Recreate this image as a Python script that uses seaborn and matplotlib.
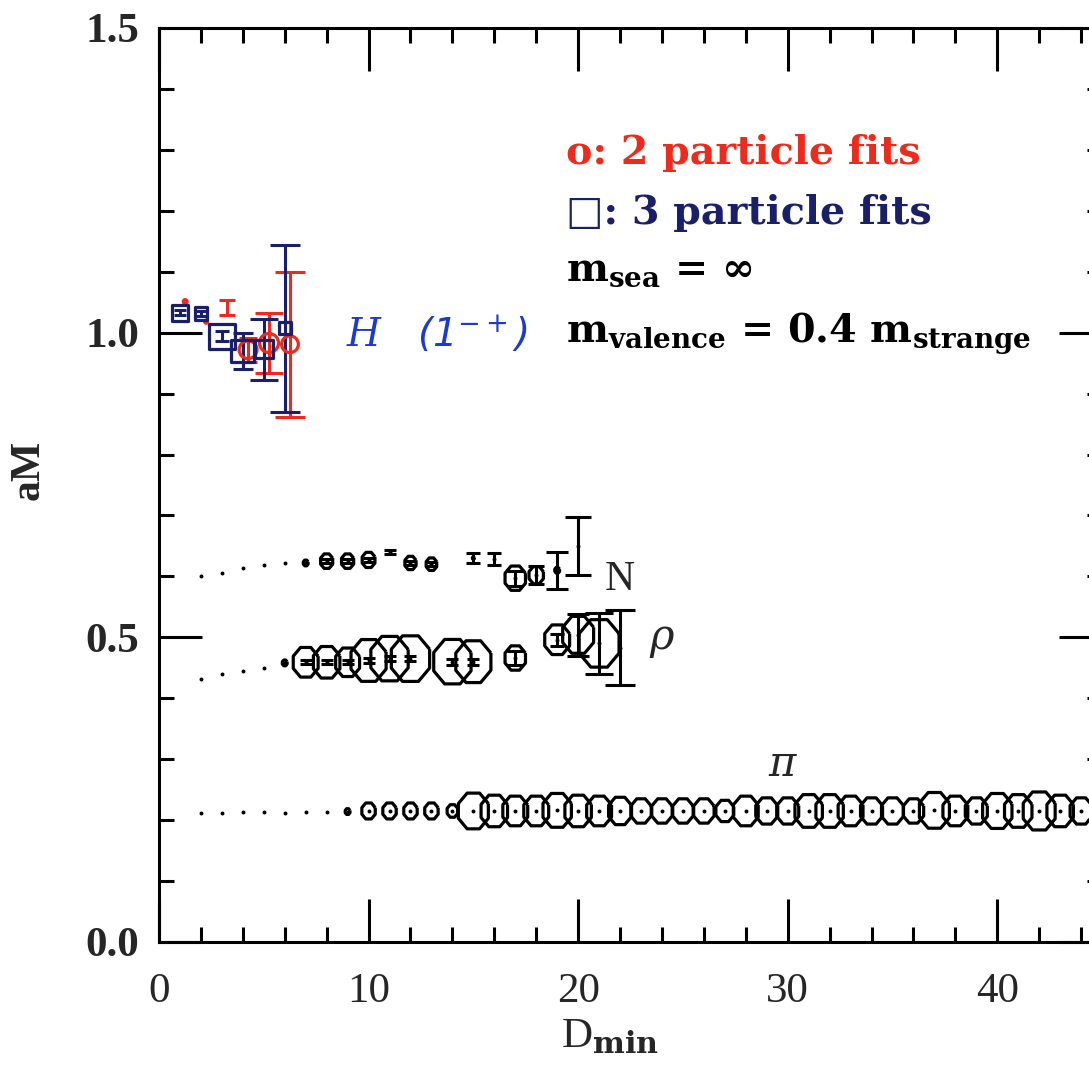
import matplotlib
matplotlib.use("Agg")

import numpy as np
import pandas as pd
import matplotlib.pyplot as plt
import seaborn as sns

# ---------------- data ----------------
# pion
pi_d = [2, 3, 4, 5, 6, 7, 8, 9, 10, 11, 12, 13, 14, 15, 16, 17, 18, 19, 20, 21,
        22, 23, 24, 25, 26, 27, 28, 29, 30, 31, 32, 33, 34, 35, 36, 37, 38, 39, 40,
        41, 42, 43, 44]
pi_am = [0.212, 0.212, 0.213, 0.213, 0.212, 0.213, 0.213, 0.214, 0.215, 0.215,
         0.215, 0.215, 0.215, 0.215, 0.215, 0.215, 0.215, 0.216, 0.215, 0.215,
         0.215, 0.215, 0.215, 0.215, 0.215, 0.215, 0.215, 0.215, 0.215, 0.215,
         0.215, 0.215, 0.215, 0.215, 0.215, 0.216, 0.215, 0.215, 0.215, 0.215,
         0.215, 0.215, 0.215]
pi_q = [0, 0, 0, 0, 0, 0, 0, 0.15, 0.42, 0.42, 0.42, 0.42, 0.33,
        0.94, 0.83, 0.78, 0.78, 0.89, 0.83, 0.78, 0.72, 0.64, 0.64,
        0.64, 0.64, 0.56, 0.78, 0.69, 0.69, 0.86, 0.86, 0.78, 0.69,
        0.69, 0.64, 0.94, 0.78, 0.69, 0.92, 0.86, 1.0, 0.83, 0.69]

# rho
rho_d = [2, 3, 4, 5, 6, 7, 8, 9, 10, 11, 12, 14, 15, 17, 19, 20, 21, 22]
rho_am = [0.431, 0.440, 0.445, 0.449, 0.458, 0.459, 0.459, 0.459, 0.462, 0.465,
          0.465, 0.460, 0.460, 0.466, 0.496, 0.504, 0.490, 0.483]
rho_err = [0, 0, 0, 0, 0, 0.003, 0.003, 0.003, 0.004, 0.004, 0.004, 0.005, 0.005,
           0.012, 0.010, 0.034, 0.050, 0.062]
rho_q = [0, 0, 0, 0, 0.15, 0.78, 0.83, 0.75, 1.1, 1.17, 1.2, 1.17, 1.1, 0.64,
         0.78, 0.97, 1.25, 0]

# nucleon
N_d = [2, 3, 4, 5, 6, 7, 8, 9, 10, 11, 12, 13, 15, 16, 17, 18, 19, 20]
N_am = [0.600, 0.606, 0.614, 0.619, 0.622, 0.622, 0.625, 0.625, 0.627, 0.640,
        0.622, 0.620, 0.630, 0.628, 0.597, 0.602, 0.610, 0.650]
N_err = [0, 0, 0, 0, 0, 0, 0.003, 0.003, 0.003, 0.004, 0.003, 0.003, 0.008,
         0.010, 0.012, 0.015, 0.030, 0.047]
N_q = [0, 0, 0, 0, 0, 0.15, 0.38, 0.38, 0.40, 0, 0.35, 0.33, 0.06, 0, 0.64,
       0.45, 0.15, 0]

# hybrid 1-+ : 3 particle fits (squares) and 2 particle fits (circles)
h3_d = [1, 2, 3, 4, 5, 6]
h3_am = [1.033, 1.031, 0.994, 0.970, 0.973, 1.007]
h3_err = [0.004, 0.004, 0.008, 0.029, 0.050, 0.137]
h3_q = [0.42, 0.33, 0.67, 0.60, 0.47, 0.31]

h2_d = [1.25, 2.25, 3.25, 4.25, 5.25, 6.25]
h2_am = [1.051, 1.018, 1.041, 0.972, 0.983, 0.981]
h2_err = [0, 0, 0.012, 0.020, 0.049, 0.119]
h2_q = [0.10, 0.08, 0, 0.47, 0.50, 0.44]

RED = "#ee2a1c"
NAVY = "#1a1f6b"
PEN = "#1a3ad0"
SMAX = 748  # marker area (pt^2) for q = 1
LW = 2.3

sns.set_style("ticks")
plt.rcParams["font.family"] = ["Liberation Serif", "DejaVu Serif"]
plt.rcParams["mathtext.fontset"] = "custom"
plt.rcParams["mathtext.rm"] = "DejaVu Serif"
plt.rcParams["mathtext.bf"] = "DejaVu Serif:bold"
plt.rcParams["mathtext.it"] = "DejaVu Serif:italic"

fig = plt.figure(figsize=(10.89, 10.72), dpi=100)
ax = fig.add_axes([0.146, 0.1213, 0.866, 0.8526])

# elongated octagon used by the original plotting program
ang = np.deg2rad(22.5 + 45 * np.arange(9))
octagon = list(zip(0.84 * np.cos(ang), np.sin(ang)))


def frame(d, am, q, err=None):
    df = pd.DataFrame({"d": d, "am": am, "q": q})
    df["area"] = df["q"] ** 2
    df["err"] = err if err is not None else 0.0
    return df


def draw_errors(df, color):
    for _, r in df[df["err"] > 0].iterrows():
        ax.errorbar(r["d"], r["am"], yerr=r["err"], fmt="none", ecolor=color,
                    elinewidth=2.2, capthick=2.2,
                    capsize=float(np.clip(4 + 120 * r["err"], 4, 11)), zorder=3)


def symbols(df, marker, color):
    # marker area proportional to q^2 (norm wide enough to avoid clipping)
    sns.scatterplot(data=df[df["q"] > 0], x="d", y="am", size="area",
                    sizes=(0, 2 * SMAX), size_norm=(0, 2), marker=marker,
                    facecolor="none", edgecolor=color, linewidth=LW,
                    legend=False, ax=ax, zorder=4)


pi = frame(pi_d, pi_am, pi_q)
rho = frame(rho_d, rho_am, rho_q, rho_err)
nuc = frame(N_d, N_am, N_q, N_err)
h3 = frame(h3_d, h3_am, h3_q, h3_err)
h2 = frame(h2_d, h2_am, h2_q, h2_err)

for df in (pi, rho, nuc):
    symbols(df, octagon, "black")
    sns.scatterplot(data=df, x="d", y="am", s=8, color="black", linewidth=0,
                    legend=False, ax=ax, zorder=5)
    draw_errors(df, "black")

draw_errors(h2, RED)
symbols(h2, "o", RED)
draw_errors(h3, NAVY)
symbols(h3, "s", NAVY)

# axes
ax.set_xlim(0, 45)
ax.set_ylim(0, 1.5)
ax.set_xticks([0, 10, 20, 30, 40])
ax.set_xticks(np.arange(0, 46, 2), minor=True)
ax.set_yticks([0.0, 0.5, 1.0, 1.5])
ax.set_yticks(np.arange(0, 1.51, 0.1), minor=True)
ax.set_yticklabels(["0.0", "0.5", "1.0", "1.5"])
for s in ax.spines.values():
    s.set_linewidth(2.2)
    s.set_color("black")
ax.tick_params(which="both", direction="in", top=True, right=True, width=2.2,
               color="black")
ax.tick_params(which="major", length=31)
ax.tick_params(which="minor", length=11)
ax.tick_params(axis="x", labelsize=31, pad=22)
ax.tick_params(axis="y", labelsize=31, pad=14)
for t in ax.get_yticklabels():
    t.set_fontweight("bold")

ax.set_xlabel(r"D$_{\mathbf{min}}$", fontsize=31)
ax.xaxis.set_label_coords(0.478, -0.083)
ax.set_ylabel("aM", fontsize=30, fontweight="bold")
ax.yaxis.set_label_coords(-0.118, 0.516)

# annotations
ax.text(22.0, 0.595, "N", fontsize=30, ha="center", va="center")
ax.text(24.0, 0.495, r"$\rho$", fontsize=30, ha="center", va="center")
ax.text(29.8, 0.29, r"$\pi$", fontsize=30, ha="center", va="center")
ax.text(8.9, 0.997, r"$\it{H}$   (1$^{-+}$)", fontsize=28, color=PEN,
        ha="left", va="center", family="DejaVu Sans", style="italic")

leg = dict(fontsize=28.5, ha="left", va="center", fontweight="bold",
           family=["DejaVu Serif", "DejaVu Sans"])
ax.text(19.4, 1.295, "o: 2 particle fits", color=RED, **leg)
ax.text(19.4, 1.196, "\u25a1: 3 particle fits", color=NAVY, **leg)
ax.text(19.4, 1.103, r"$\mathbf{m_{sea}}$ = ∞", color="black", **leg)
ax.text(19.4, 0.999, r"$\mathbf{m_{valence}}$ = 0.4 $\mathbf{m_{strange}}$",
        color="black", **leg)

fig.savefig("out.png", dpi=100, facecolor="white")
